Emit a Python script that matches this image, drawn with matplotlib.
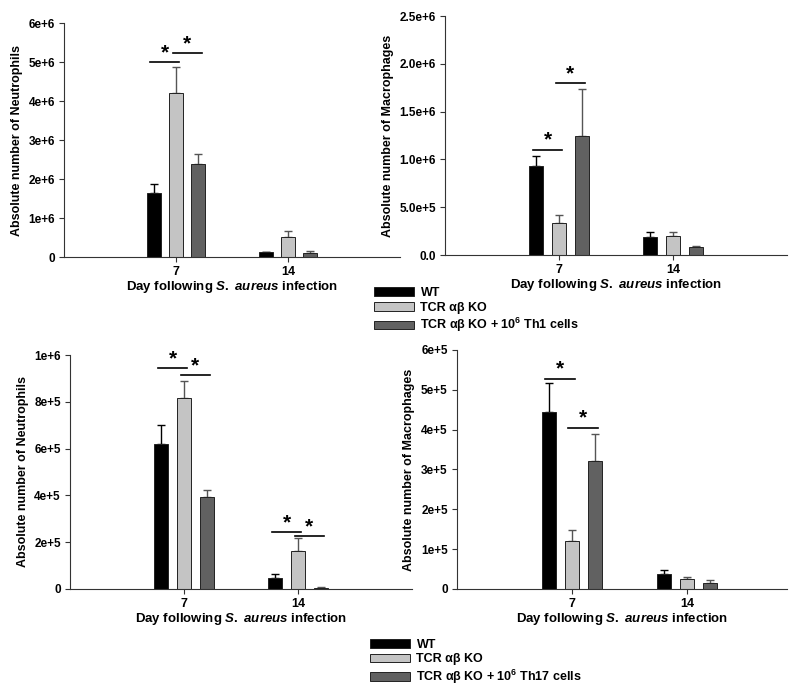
import matplotlib
matplotlib.use("Agg")
import matplotlib.pyplot as plt
from matplotlib.patches import Patch

plt.rcParams['font.family'] = ['Liberation Sans', 'DejaVu Sans']
plt.rcParams['font.weight'] = 'bold'
plt.rcParams['mathtext.fontset'] = 'custom'
plt.rcParams['mathtext.rm'] = 'Liberation Sans:bold'
plt.rcParams['mathtext.it'] = 'Liberation Sans:italic:bold'
plt.rcParams['mathtext.bf'] = 'Liberation Sans:bold'

days = ["7", "14"]
groups = ["WT", "TCR αβ KO", "TCR αβ KO + 10$^{6}$ Th1 cells"]
groups_th17 = ["WT", "TCR αβ KO", "TCR αβ KO + 10$^{6}$ Th17 cells"]
colors = ["#000000", "#c4c4c4", "#616161"]

# values per group: [day7, day14]
neut_th1 = [[1.64e6, 0.13e6], [4.20e6, 0.51e6], [2.38e6, 0.10e6]]
neut_th1_err = [[0.23e6, 0.0], [0.67e6, 0.16e6], [0.26e6, 0.05e6]]
mac_th1 = [[0.93e6, 0.19e6], [0.33e6, 0.20e6], [1.24e6, 0.085e6]]
mac_th1_err = [[0.11e6, 0.05e6], [0.09e6, 0.04e6], [0.50e6, 0.005e6]]
neut_th17 = [[0.62e6, 0.047e6], [0.815e6, 0.162e6], [0.393e6, 0.005e6]]
neut_th17_err = [[0.08e6, 0.016e6], [0.073e6, 0.056e6], [0.03e6, 0.005e6]]
mac_th17 = [[4.45e5, 0.37e5], [1.21e5, 0.24e5], [3.22e5, 0.15e5]]
mac_th17_err = [[0.73e5, 0.10e5], [0.27e5, 0.05e5], [0.68e5, 0.07e5]]

# significance bars: (day index, group a, group b, height)
sig_neut_th1 = [(0, 0, 1, 5.0e6), (0, 1, 2, 5.23e6)]
sig_mac_th1 = [(0, 0, 1, 1.10e6), (0, 1, 2, 1.80e6)]
sig_neut_th17 = [(0, 0, 1, 0.944e6), (0, 1, 2, 0.915e6),
                 (1, 0, 1, 0.244e6), (1, 1, 2, 0.226e6)]
sig_mac_th17 = [(0, 0, 1, 5.28e5), (0, 1, 2, 4.05e5)]

neut_th1_ticks = [0, 1e6, 2e6, 3e6, 4e6, 5e6, 6e6]
neut_th1_labels = ["0", "1e+6", "2e+6", "3e+6", "4e+6", "5e+6", "6e+6"]
mac_th1_ticks = [0, 0.5e6, 1.0e6, 1.5e6, 2.0e6, 2.5e6]
mac_th1_labels = ["0.0", "5.0e+5", "1.0e+6", "1.5e+6", "2.0e+6", "2.5e+6"]
neut_th17_ticks = [0, 2e5, 4e5, 6e5, 8e5, 1e6]
neut_th17_labels = ["0", "2e+5", "4e+5", "6e+5", "8e+5", "1e+6"]
mac_th17_ticks = [0, 1e5, 2e5, 3e5, 4e5, 5e5, 6e5]
mac_th17_labels = ["0", "1e+5", "2e+5", "3e+5", "4e+5", "5e+5", "6e+5"]

xlabel = "Day following $\\mathit{S.\\ aureus}$ infection"
offsets = [-0.2, 0.0, 0.2]
width = 0.125


def panel(ax, vals, errs, sigs, ticks, labels, ylabel, xmax=3):
    x = [1, 2]
    for g in range(3):
        pos = [xi + offsets[g] for xi in x]
        ax.bar(pos, vals[g], width, color=colors[g], edgecolor="#222222",
               linewidth=0.7, zorder=2)
        ax.errorbar(pos, vals[g], yerr=[[0, 0], errs[g]], fmt="none",
                    ecolor="#555555" if g else "#000000", elinewidth=1,
                    capsize=3, capthick=1, zorder=1)
    for d, a, b, h in sigs:
        x1 = x[d] + offsets[a] - 0.03
        x2 = x[d] + offsets[b] + 0.03
        ax.plot([x1, x2], [h, h], color="black", lw=1.2)
        ax.text((x1 + x2) / 2, h, "*", ha="center", va="bottom",
                fontsize=15, fontweight="bold")
    ax.set_xlim(0, xmax)
    ax.set_ylim(0, ticks[-1])
    ax.set_xticks(x)
    ax.set_xticklabels(days, fontsize=9)
    ax.set_yticks(ticks)
    ax.set_yticklabels(labels, fontsize=8.5)
    ax.set_ylabel(ylabel, fontsize=9, fontweight="bold")
    ax.set_xlabel(xlabel, fontsize=9.5, fontweight="bold", labelpad=1)
    for s in ["top", "right"]:
        ax.spines[s].set_visible(False)
    for s in ["left", "bottom"]:
        ax.spines[s].set_color("#333333")
    ax.tick_params(direction="out", length=3.5, color="#333333", pad=3)


fig = plt.figure(figsize=(8, 6.9), dpi=100)
ax1 = fig.add_axes([0.08, 0.6275, 0.42, 0.339])
ax2 = fig.add_axes([0.556, 0.6304, 0.428, 0.3464])
ax3 = fig.add_axes([0.0875, 0.1464, 0.4275, 0.3391])
ax4 = fig.add_axes([0.571, 0.1464, 0.413, 0.3464])

panel(ax1, neut_th1, neut_th1_err, sig_neut_th1, neut_th1_ticks,
      neut_th1_labels, "Absolute number of Neutrophils")
panel(ax2, mac_th1, mac_th1_err, sig_mac_th1, mac_th1_ticks,
      mac_th1_labels, "Absolute number of Macrophages")
panel(ax3, neut_th17, neut_th17_err, sig_neut_th17, neut_th17_ticks,
      neut_th17_labels, "Absolute number of Neutrophils")
panel(ax4, mac_th17, mac_th17_err, sig_mac_th17, mac_th17_ticks,
      mac_th17_labels, "Absolute number of Macrophages", xmax=2.87)

h1 = [Patch(facecolor=c, edgecolor="#222222", linewidth=0.7) for c in colors]
fig.legend(h1, groups, loc="upper left", bbox_to_anchor=(0.46, 0.593),
           frameon=False, fontsize=9, handlelength=3.2, handleheight=0.7,
           labelspacing=0.2, handletextpad=0.5, borderpad=0)
fig.legend(h1, groups_th17, loc="upper left", bbox_to_anchor=(0.455, 0.083),
           frameon=False, fontsize=9, handlelength=3.2, handleheight=0.7,
           labelspacing=0.2, handletextpad=0.5, borderpad=0)

fig.savefig("out.png", dpi=100)
